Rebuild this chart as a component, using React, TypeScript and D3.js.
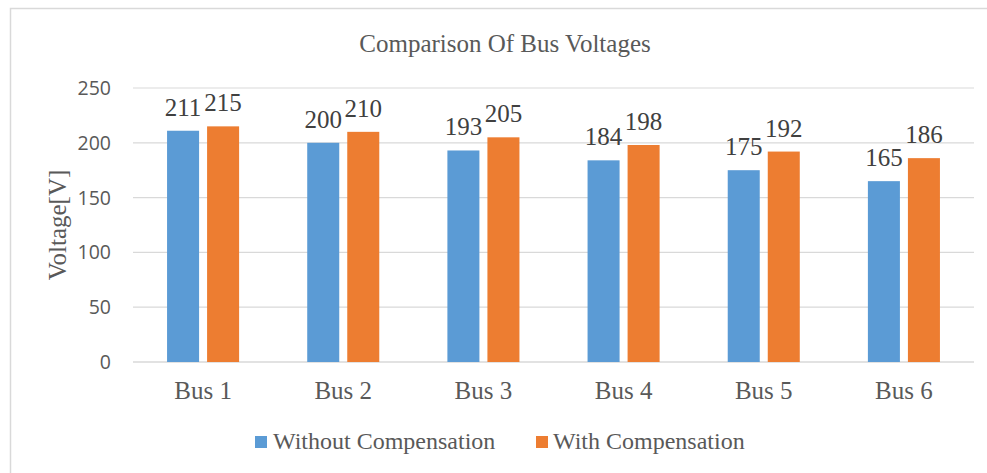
import React from "react";
import * as d3 from "d3";

const categories = ["Bus 1", "Bus 2", "Bus 3", "Bus 4", "Bus 5", "Bus 6"];
const seriesNames = ["Without Compensation", "With Compensation"];
const withoutComp = [211, 200, 193, 184, 175, 165];
const withComp = [215, 210, 205, 198, 192, 186];
const yTicks = [0, 50, 100, 150, 200, 250];
const colors = ["#5B9BD5", "#ED7D31"];

const W = 987;
const H = 473;
const plot = { left: 133, right: 974, top: 88, bottom: 362 };

export default function App() {
  const x = d3.scaleBand<string>().domain(categories).range([plot.left, plot.right]);
  const y = d3.scaleLinear().domain([0, 250]).range([plot.bottom, plot.top]);
  const groupW = x.bandwidth() * 0.514;
  const inner = d3.scaleBand<string>().domain(seriesNames).range([0, groupW]).paddingInner(0.2);
  const offset = (x.bandwidth() - groupW) / 2;
  const seriesData = [withoutComp, withComp];
  const serif = "'Liberation Serif', 'Times New Roman', serif";
  const sans = "'Open Sans', 'Noto Sans', sans-serif";

  return (
    <svg
      width={W}
      height={H}
      style={{ position: "absolute", left: 0, top: 0, background: "#fff" }}
    >
      <rect x={10.5} y={8.5} width={1000} height={600} fill="#fff" stroke="#d9d9d9" strokeWidth={1.5} />
      <text x={505} y={52} textAnchor="middle" fontFamily={serif} fontSize={25} fill="#595959">
        Comparison Of Bus Voltages
      </text>
      {yTicks.map((t) => (
        <g key={t}>
          <line x1={plot.left} x2={plot.right} y1={y(t)} y2={y(t)} stroke="#d9d9d9" strokeWidth={t === 0 ? 1.5 : 1.2} />
          <text x={111} y={y(t) + 7} textAnchor="end" fontFamily={sans} fontSize={19.5} fill="#595959">
            {t}
          </text>
        </g>
      ))}
      <text
        transform={`translate(66,225) rotate(-90)`}
        textAnchor="middle"
        fontFamily={serif}
        fontSize={25}
        fill="#595959"
      >
        Voltage[V]
      </text>
      {categories.map((c, i) => (
        <g key={c}>
          {seriesNames.map((s, j) => {
            const v = seriesData[j][i];
            const bx = (x(c) as number) + offset + (inner(s) as number);
            return (
              <g key={s}>
                <rect x={bx} y={y(v)} width={inner.bandwidth()} height={y(0) - y(v)} fill={colors[j]} />
                <text
                  x={bx + inner.bandwidth() / 2}
                  y={y(v) - 15}
                  textAnchor="middle"
                  fontFamily={serif}
                  fontSize={25}
                  fill="#404040"
                >
                  {v}
                </text>
              </g>
            );
          })}
          <text
            x={(x(c) as number) + x.bandwidth() / 2}
            y={399}
            textAnchor="middle"
            fontFamily={serif}
            fontSize={25}
            fill="#595959"
          >
            {c}
          </text>
        </g>
      ))}
      <g>
        <rect x={255} y={436} width={12} height={12} fill={colors[0]} />
        <text x={273} y={449} fontFamily={serif} fontSize={24} fill="#595959">
          {seriesNames[0]}
        </text>
        <rect x={536} y={436} width={12} height={12} fill={colors[1]} />
        <text x={553} y={449} fontFamily={serif} fontSize={24} fill="#595959">
          {seriesNames[1]}
        </text>
      </g>
    </svg>
  );
}
